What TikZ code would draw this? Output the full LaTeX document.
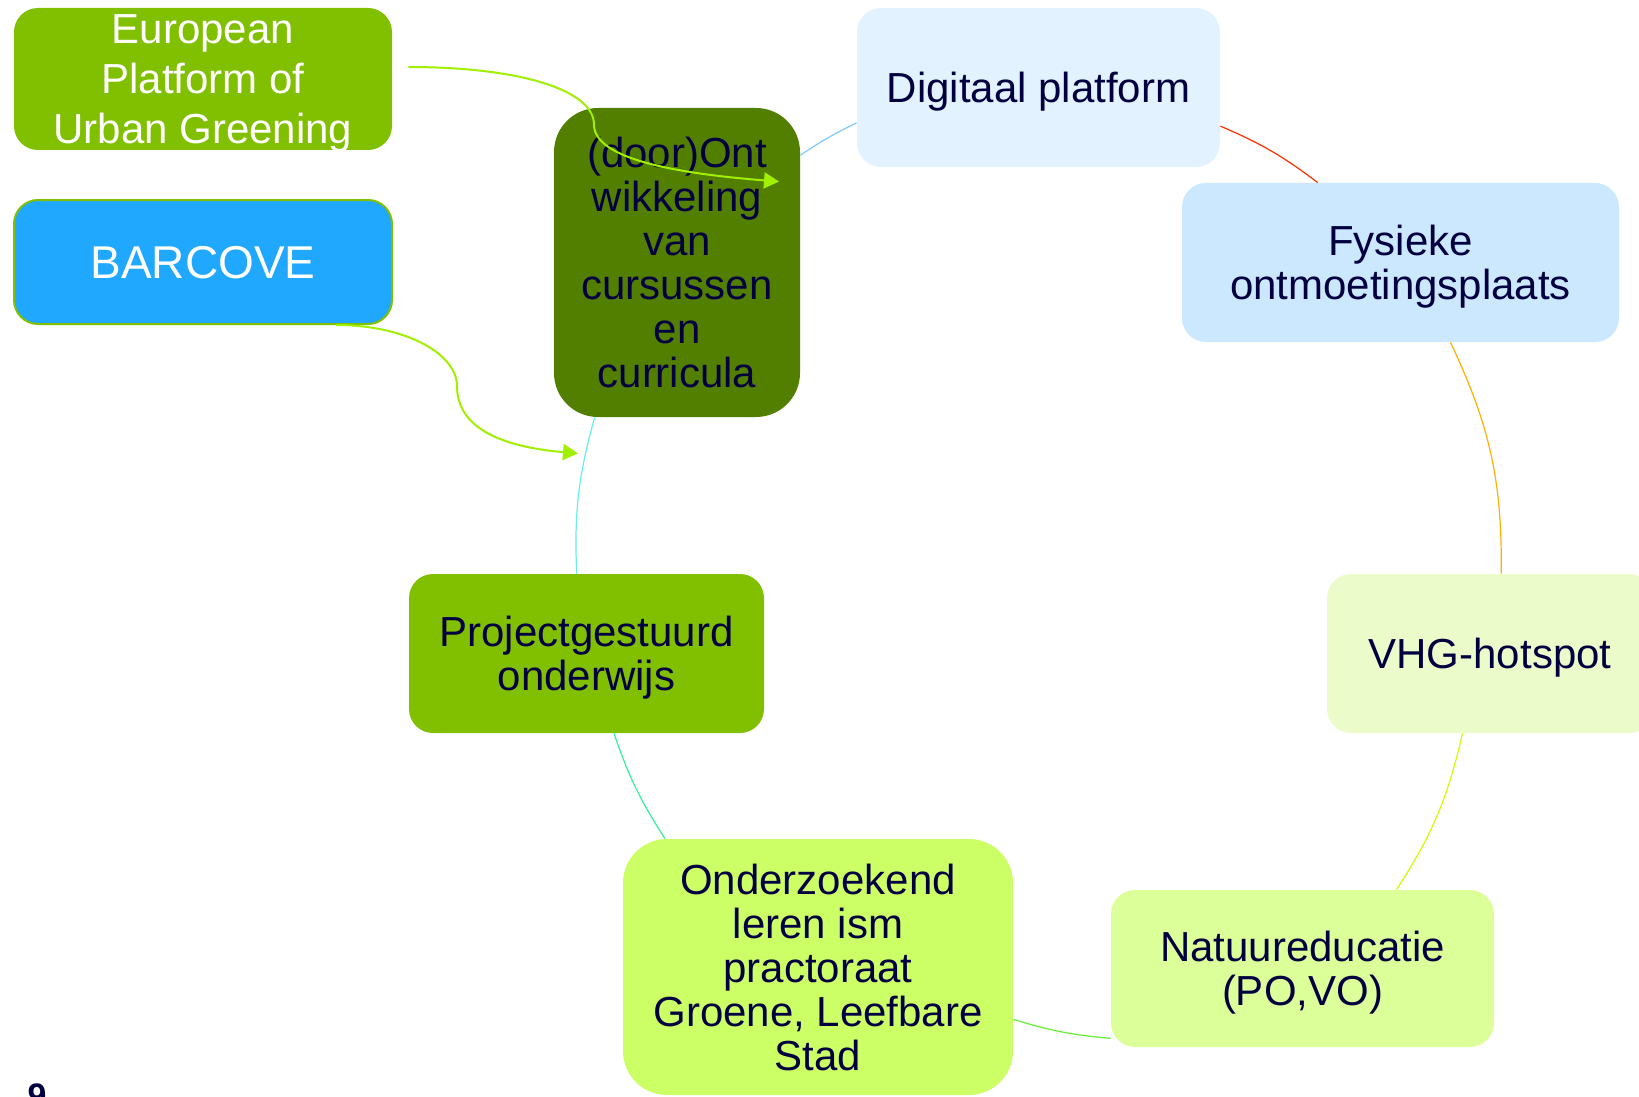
\documentclass[tikz,border=0pt]{standalone}
\usepackage{fontspec}
\setmainfont{Liberation Sans}
\usetikzlibrary{arrows.meta, calc}

\definecolor{navy}{HTML}{000040}
\definecolor{olive}{HTML}{80C000}
\definecolor{darkolive}{HTML}{527F00}
\definecolor{skyblue}{HTML}{20A8FF}
\definecolor{paleblue}{HTML}{E2F3FF}
\definecolor{lightblue}{HTML}{CCE8FF}
\definecolor{palelime}{HTML}{EBFCCA}
\definecolor{softlime}{HTML}{DDFF99}
\definecolor{brightlime}{HTML}{CCFF66}
\definecolor{arrowlime}{HTML}{A0F000}

\begin{document}
\begin{tikzpicture}[
  x=0.5pt, y=-0.5pt,
  every node/.style={align=center},
  stage/.style={rounded corners=12pt, inner sep=0, text depth=0pt, text=navy, font=\fontsize{21}{22}\selectfont},
  link/.style={line width=0.6pt},
  feed/.style={-{Triangle[length=7.5pt, width=8pt]}, line width=1pt, draw=arrowlime, fill=none}]

  \useasboundingbox (0,0) rectangle (1639,1097);

  % Side nodes
  \node[stage, fill=olive, text=white, text depth=-2pt, minimum width=189pt, minimum height=71pt,
        font=\fontsize{21}{25}\selectfont] (european) at (203,79) {European\\Platform of\\Urban Greening};
  \node[stage, fill=skyblue, draw=olive, line width=1pt, text=white, minimum width=189pt, minimum height=62pt,
        font=\fontsize{23}{25}\selectfont] (barcove) at (203,262) {BARCOVE};

  % Nodes of the ring
  \node[stage, fill=darkolive, rounded corners=22pt, minimum width=123pt, minimum height=154.5pt] (dooront) at (677,262.5)
    {(door)Ont\\wikkeling\\van\\cursussen\\en\\curricula};
  \node[stage, fill=paleblue, minimum width=181.5pt, minimum height=79.5pt] (digitaal) at (1038.5,87.5) {Digitaal platform};
  \node[stage, fill=lightblue, minimum width=218.5pt, minimum height=79.5pt] (fysieke) at (1400.5,262.5) {Fysieke\\ontmoetingsplaats};
  \node[stage, fill=palelime, minimum width=163pt, minimum height=79.5pt] (vhg) at (1490,653.5) {VHG-hotspot};
  \node[stage, fill=softlime, minimum width=191.5pt, minimum height=78.5pt] (natuur) at (1302.5,968.5) {Natuureducatie\\(PO,VO)};
  \node[stage, fill=brightlime, rounded corners=22pt, minimum width=195pt, minimum height=128pt] (onderzoek) at (818,967)
    {Onderzoekend\\leren ism\\practoraat\\Groene, Leefbare\\Stad};
  \node[stage, fill=olive, minimum width=177.5pt, minimum height=79.5pt] (project) at (586.5,653.5) {Projectgestuurd\\onderwijs};

  % Page number
  \node[anchor=north, inner sep=0, text=navy, font=\bfseries\fontsize{17}{17}\selectfont] (pagenum) at (37,1083) {9};

  % Ring connectors
  \draw[link, draw={rgb,255:red,127;green,200;blue,255}] (dooront.41) to[bend left=4] (digitaal.191.5);
  \draw[link, draw={rgb,255:red,255;green,48;blue,0}] (digitaal.-12) to[bend left=7] (fysieke.136);
  \draw[link, draw={rgb,255:red,255;green,176;blue,0}] (fysieke.-58) to[bend left=13] (vhg.82);
  \draw[link, draw={rgb,255:red,204;green,255;blue,0}] (vhg.251) to[bend left=10] (natuur.40);
  \draw[link, draw={rgb,255:red,102;green,238;blue,51}] (natuur.200) to[bend left=6] (onderzoek.-15.4);
  \draw[link, draw={rgb,255:red,51;green,238;blue,153}] (onderzoek.140) to[bend left=7] (project.-71.4);
  \draw[link, draw={rgb,255:red,102;green,238;blue,238}] (project.97) to[bend left=9] (dooront.242.5);

  % Feeds into the course development
  \coordinate (eubend) at ([shift={(-83,17)}]dooront.north);
  \coordinate (eutip) at ([shift={(102,74)}]dooront.north);
  \draw[feed] ([shift={(16,-12)}]european.east) .. controls +(110,0) and +(0,-35) .. (eubend)
    .. controls +(0,35) and +(-100,-8) .. (eutip);

  \coordinate (barbend) at ([shift={(254,61)}]barcove.south);
  \coordinate (bartip) at ([shift={(-99,36)}]dooront.south);
  \draw[feed] ([shift={(133,0)}]barcove.south) .. controls +(70,0) and +(0,-32) .. (barbend)
    .. controls +(0,45) and +(-70,-6) .. (bartip);

\end{tikzpicture}
\end{document}
